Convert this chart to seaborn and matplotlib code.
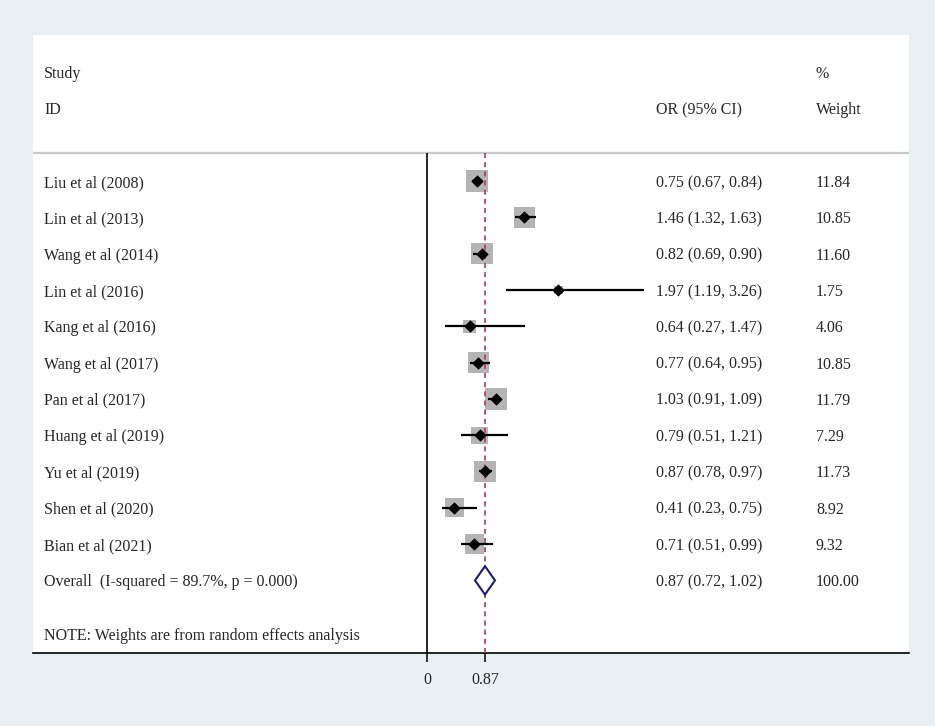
import numpy as np
import pandas as pd
import matplotlib
matplotlib.use("Agg")
import matplotlib.pyplot as plt
import matplotlib.transforms as mtransforms
import seaborn as sns

studies = ["Liu et al (2008)", "Lin et al (2013)", "Wang et al (2014)", "Lin et al (2016)",
           "Kang et al (2016)", "Wang et al (2017)", "Pan et al (2017)", "Huang et al (2019)",
           "Yu et al (2019)", "Shen et al (2020)", "Bian et al (2021)"]
odds = [0.75, 1.46, 0.82, 1.97, 0.64, 0.77, 1.03, 0.79, 0.87, 0.41, 0.71]
lower = [0.67, 1.32, 0.69, 1.19, 0.27, 0.64, 0.91, 0.51, 0.78, 0.23, 0.51]
upper = [0.84, 1.63, 0.90, 3.26, 1.47, 0.95, 1.09, 1.21, 0.97, 0.75, 0.99]
weights = [11.84, 10.85, 11.60, 1.75, 4.06, 10.85, 11.79, 7.29, 11.73, 8.92, 9.32]

overall_label = "Overall  (I-squared = 89.7%, p = 0.000)"
overall_or, overall_lo, overall_hi = 0.87, 0.72, 1.02
overall_weight = "100.00"
note = "NOTE: Weights are from random effects analysis"

df = pd.DataFrame({"study": studies, "or": odds, "lo": lower, "hi": upper, "w": weights})
df["row"] = np.arange(len(df))
overall_row = len(df)

sns.set_style("white")
plt.rcParams["font.family"] = ["Liberation Serif", "DejaVu Serif"]
fs = 11.5

fig = plt.figure(figsize=(9.35, 7.26), dpi=100)
fig.patch.set_facecolor("#e9f0f3")
W, H = 935, 726
ax = fig.add_axes([33 / W, (H - 653) / H, (909 - 33) / W, (653 - 35) / H])
ax.set_facecolor("white")

ax.set_xlim(-5.91, 7.23)
ax.set_ylim(13.0, -4.02)

# grey weight boxes
sns.scatterplot(data=df, x="or", y="row", size="w", sizes=(21 * 1.75, 21 * 11.84),
                size_norm=(1.75, 11.84), marker="s", color="#b4b4b4", edgecolor="none",
                linewidth=0, legend=False, ax=ax, zorder=2)

# header separator, null line and overall line
ax.axhline(-0.77, color="#c8c8c8", lw=1.6, zorder=1)
ax.vlines(0, -0.77, 13.0, color="black", lw=1.2, zorder=3)
ax.vlines(overall_or, -0.77, 13.0, color="#a8404f", lw=1.2, linestyles=(0, (3, 2.5)), zorder=3)

# confidence intervals and point estimates
ax.hlines(df["row"], df["lo"], df["hi"], color="black", lw=1.6, zorder=4)
sns.scatterplot(data=df, x="or", y="row", marker="D", color="black", s=34,
                edgecolor="black", legend=False, ax=ax, zorder=5)

# overall diamond
ax.fill([overall_lo, overall_or, overall_hi, overall_or, overall_lo],
        [overall_row, overall_row - 0.39, overall_row, overall_row + 0.39, overall_row],
        facecolor="white", edgecolor="#1c1c6b", lw=1.5, zorder=5)

trans = mtransforms.blended_transform_factory(ax.transAxes, ax.transData)
x_study, x_or, x_w = (44 - 33) / 876, (656 - 33) / 876, (816 - 33) / 876
va = "center_baseline"

ax.text(x_study, -3.0, "Study", transform=trans, fontsize=fs, va=va)
ax.text(x_study, -2.01, "ID", transform=trans, fontsize=fs, va=va)
ax.text(x_or, -2.01, "OR (95% CI)", transform=trans, fontsize=fs, va=va)
ax.text(x_w, -3.0, "%", transform=trans, fontsize=fs, va=va)
ax.text(x_w, -2.01, "Weight", transform=trans, fontsize=fs, va=va)

for _, r in df.iterrows():
    ax.text(x_study, r["row"], r["study"], transform=trans, fontsize=fs, va=va)
    ax.text(x_or, r["row"], f"{r['or']:.2f} ({r['lo']:.2f}, {r['hi']:.2f})",
            transform=trans, fontsize=fs, va=va)
    ax.text(x_w, r["row"], f"{r['w']:.2f}", transform=trans, fontsize=fs, va=va)

ax.text(x_study, overall_row, overall_label, transform=trans, fontsize=fs, va=va)
ax.text(x_or, overall_row, f"{overall_or:.2f} ({overall_lo:.2f}, {overall_hi:.2f})",
        transform=trans, fontsize=fs, va=va)
ax.text(x_w, overall_row, overall_weight, transform=trans, fontsize=fs, va=va)
ax.text(x_study, 12.49, note, transform=trans, fontsize=fs, va=va)

for side in ["top", "left", "right"]:
    ax.spines[side].set_visible(False)
ax.spines["bottom"].set_color("black")
ax.spines["bottom"].set_linewidth(1.2)

ax.set_xticks([0, overall_or])
ax.set_xticklabels(["0", "0.87"], fontsize=fs)
ax.set_yticks([])
ax.tick_params(axis="x", direction="out", length=6.5, width=1.1, pad=7, bottom=True,
               color="black")
ax.set_xlabel("")
ax.set_ylabel("")

fig.savefig("out.png", dpi=100, facecolor=fig.get_facecolor())
